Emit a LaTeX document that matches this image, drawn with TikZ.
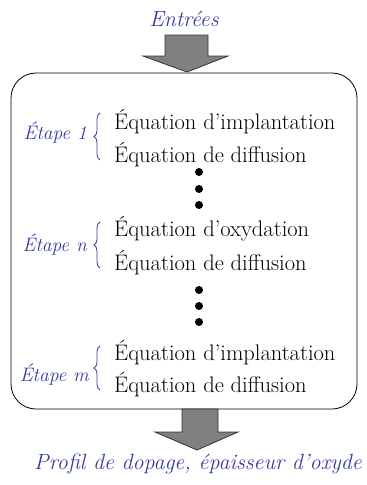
\documentclass[tikz,border=0pt]{standalone}
\usepackage{tikz}
\usetikzlibrary{shapes}
\usetikzlibrary{arrows}
\usetikzlibrary{decorations.pathreplacing}
\definecolor{bleu}{RGB}{52,60,160}
\definecolor{gris}{RGB}{128,128,128}
\tikzset{
  eq_node/.style = {anchor=west, inner sep=0pt,
    font=\fontsize{22.5}{24}\selectfont},% equation d'une etape
  step_label/.style = {anchor=east, inner sep=0pt, text=bleu,
    font=\fontsize{19.5}{22}\selectfont\itshape},% nom de l'etape
  io_label/.style = {inner sep=0pt, text=bleu,
    font=\fontsize{22}{24}\selectfont\itshape},% entree / sortie
  dot_node/.style = {circle, fill=black, inner sep=0pt,
    minimum size=8pt},% points de suspension
  box_node/.style = {draw=black, thick, rounded corners=25pt,
    minimum width=346pt, minimum height=336pt},% cadre des etapes
  big_arrow/.style = {draw=black!80, fill=gris, thick},% grosse fleche
  step_brace/.style = {draw=bleu, thick, decorate,
    decoration={brace, amplitude=6pt}}% accolade
}

\begin{document}
\begin{tikzpicture}[x=1pt, y=-1pt]
  \useasboundingbox (0,0) rectangle (367,485);
  \node [io_label] (entrees) at (184,19) {Entrées};
  \node [box_node] (box) at (184,241) {};
  \node [io_label] (sortie) at (198,464) {Profil de dopage, épaisseur d'oxyde};
  % grosses fleches
  \draw [big_arrow] (165,35) -- (208,35) -- (208,56) -- (228,56)
    -- (187,72) -- (143,56) -- (165,56) -- cycle;
  \draw [big_arrow] (182,409) -- (218,409) -- (218,432) -- (238,432)
    -- (197,450) -- (155,432) -- (182,432) -- cycle;
  % etape 1
  \node [eq_node] (eq1a) at (114,122) {Équation d'implantation};
  \node [eq_node] (eq1b) at (114,155) {Équation de diffusion};
  \node [step_label] (step1) at (87,133) {Étape 1};
  \draw [step_brace] (100,160) -- (100,113);
  \node [dot_node] (d1) at (199,172) {};
  \node [dot_node] (d2) at (199,189) {};
  \node [dot_node] (d3) at (199,205) {};
  % etape n
  \node [eq_node] (eqna) at (114,229) {Équation d'oxydation};
  \node [eq_node] (eqnb) at (114,263) {Équation de diffusion};
  \node [step_label] (stepn) at (87,245) {Étape n};
  \draw [step_brace] (100,268) -- (100,222);
  \node [dot_node] (d4) at (199,290) {};
  \node [dot_node] (d5) at (199,306) {};
  \node [dot_node] (d6) at (199,322) {};
  % etape m
  \node [eq_node] (eqma) at (114,353) {Équation d'implantation};
  \node [eq_node] (eqmb) at (114,385) {Équation de diffusion};
  \node [step_label] (stepm) at (89,375) {Étape m};
  \draw [step_brace] (100,390) -- (100,346);
\end{tikzpicture}
\end{document}
